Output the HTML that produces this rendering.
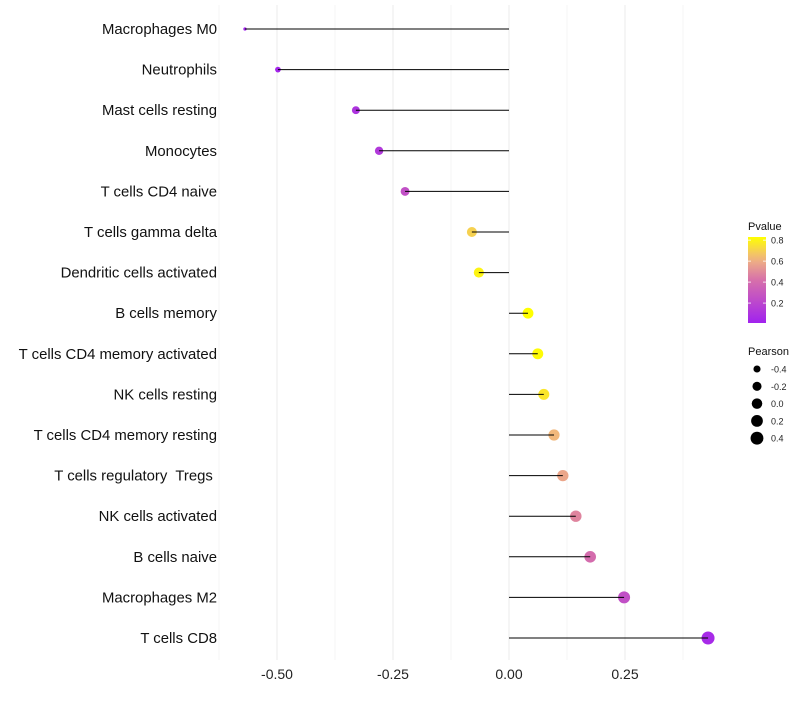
<!DOCTYPE html>
<html><head><meta charset="utf-8"><style>
body{margin:0;background:#fff;font-family:"Liberation Sans",sans-serif}
</style></head><body>
<svg id="c" width="800" height="700" xmlns="http://www.w3.org/2000/svg"></svg>
<script>
const categories=["Macrophages M0","Neutrophils","Mast cells resting","Monocytes","T cells CD4 naive","T cells gamma delta","Dendritic cells activated","B cells memory","T cells CD4 memory activated","NK cells resting","T cells CD4 memory resting","T cells regulatory  Tregs ","NK cells activated","B cells naive","Macrophages M2","T cells CD8"];
const pearson=[-0.569,-0.498,-0.330,-0.280,-0.224,-0.080,-0.065,0.041,0.062,0.075,0.097,0.116,0.144,0.175,0.248,0.429];
const pvalue=[0.01,0.03,0.10,0.13,0.25,0.70,0.80,0.85,0.82,0.76,0.63,0.58,0.48,0.40,0.25,0.05];
const xTicks=[-0.5,-0.25,0,0.25];
const xTickLabels=["-0.50","-0.25","0.00","0.25"];
const legendPearson=[-0.4,-0.2,0.0,0.2,0.4];
const legendP=[0.8,0.6,0.4,0.2];
const NS="http://www.w3.org/2000/svg";
const svg=document.getElementById('c');
function mk(t,a,p){const e=document.createElementNS(NS,t);for(const k in a)e.setAttribute(k,a[k]);(p||svg).appendChild(e);return e;}
const X=v=>509+v*464;
const Y=i=>29+i*40.6;
const R=v=>1.5+5*Math.sqrt(Math.max(0,v+0.57)/1.0);
function lerp(a,b,t){return a.map((x,i)=>Math.round(x+(b[i]-x)*t));}
function col(p){const stops=[[0,[160,32,240]],[0.42,[215,112,170]],[0.62,[240,180,130]],[0.83,[255,255,0]]];
 p=Math.max(0,Math.min(0.83,p));for(let i=0;i<stops.length-1;i++){if(p<=stops[i+1][0]){const t=(p-stops[i][0])/(stops[i+1][0]-stops[i][0]);const c=lerp(stops[i][1],stops[i+1][1],t);return `rgb(${c})`;}}return 'rgb(255,255,0)';}
for(let v=-0.625;v<=0.4;v+=0.25){const g=mk('line',{x1:X(v),x2:X(v),y1:5,y2:660,stroke:'#f5f5f5','stroke-width':1});}
xTicks.forEach((v,i)=>{const g=mk('line',{x1:X(v),x2:X(v),y1:5,y2:660,stroke:'#ebebeb','stroke-width':1});
 const t=mk('text',{x:X(v),y:679,'text-anchor':'middle','font-size':14,fill:'#222'});t.textContent=xTickLabels[i];});
categories.forEach((c,i)=>{
 const t=mk('text',{x:217,y:Y(i)+5,'text-anchor':'end','font-size':14.9,fill:'#111',style:'white-space:pre'});t.textContent=c;
 const d=mk('circle',{cx:X(pearson[i]),cy:Y(i),r:R(pearson[i]),fill:col(pvalue[i])});
 const l=mk('line',{x1:X(0),x2:X(pearson[i]),y1:Y(i),y2:Y(i),stroke:'#000','stroke-width':1});
});
const defs=mk('defs',{});const lg=mk('linearGradient',{id:'g',x1:0,y1:1,x2:0,y2:0},defs);
for(let k=0;k<=10;k++){const p=0.01+k*0.082;mk('stop',{offset:k/10,'stop-color':col(p)},lg);}
let tt=mk('text',{x:748,y:230,'font-size':11,fill:'#111'});tt.textContent='Pvalue';
const cb=mk('rect',{x:748,y:237,width:18,height:86,fill:'url(#g)'});
const PY=p=>323-(p-0.01)/0.82*86;
legendP.forEach(p=>{mk('line',{x1:748,x2:751,y1:PY(p),y2:PY(p),stroke:'#fff','stroke-width':0.8});mk('line',{x1:763,x2:766,y1:PY(p),y2:PY(p),stroke:'#fff','stroke-width':0.8});
 const t=mk('text',{x:771,y:PY(p)+3.5,'font-size':9,fill:'#222'});t.textContent=p.toFixed(1);});
tt=mk('text',{x:748,y:355,'font-size':11,fill:'#111'});tt.textContent='Pearson';
legendPearson.forEach((v,i)=>{const y=369+i*17.3;const c=mk('circle',{cx:757,cy:y,r:R(v),fill:'#000'});
 const t=mk('text',{x:771,y:y+3.5,'font-size':9,fill:'#222'});t.textContent=v.toFixed(1);});
</script>
</body></html>
